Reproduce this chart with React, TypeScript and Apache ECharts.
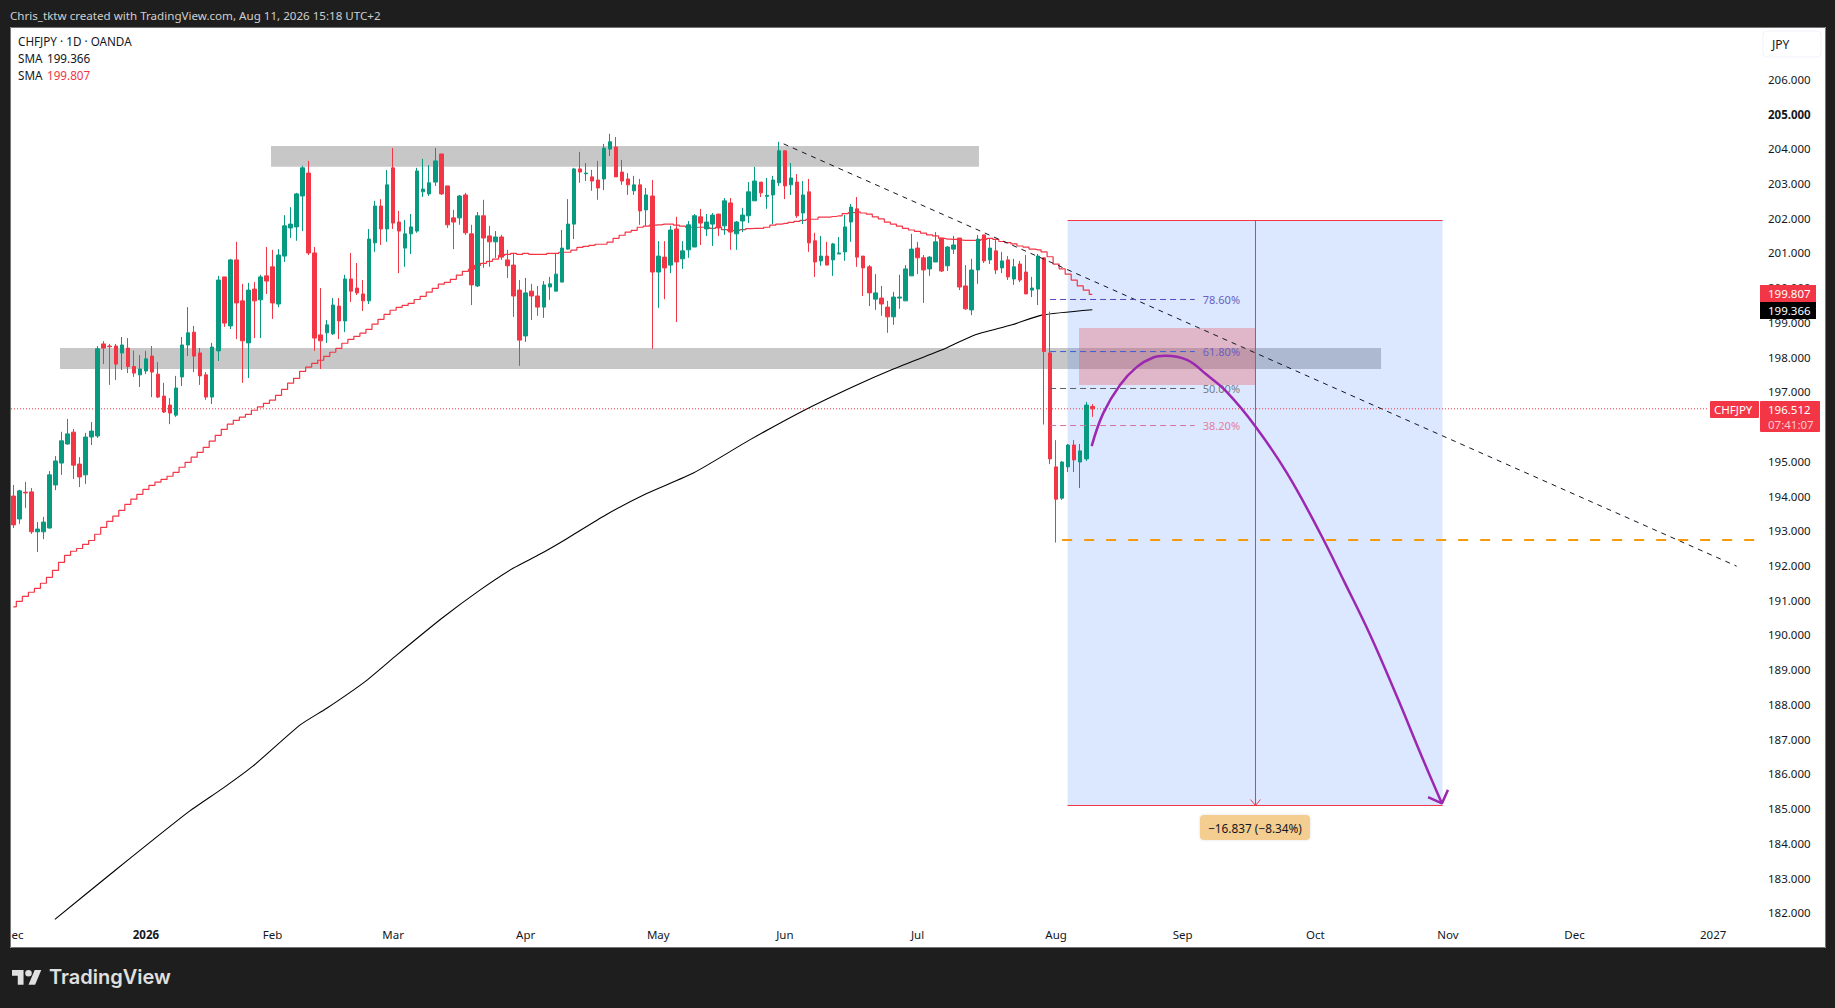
import { useRef, useEffect } from 'react';
import * as echarts from 'echarts';

const FONT = '"Noto Sans", sans-serif';
const UP = '#089981';
const DOWN = '#F23645';
const INK = '#131722';
const DARK = '#1e1e1e';

// daily candles, [open, close, low, high]
const candles = [
  [194.0, 193.17, 193.08, 194.32], [193.34, 194.15, 193.2, 194.18], [194.11, 194.09, 193.66, 194.41], [194.12, 192.97, 192.91, 194.23],
  [192.97, 193.05, 192.39, 193.25], [192.97, 193.25, 192.76, 193.4], [193.08, 194.61, 193.06, 194.72], [194.32, 195.01, 194.17, 195.15],
  [194.95, 195.59, 194.61, 195.85], [195.5, 195.79, 195.48, 196.22], [195.84, 194.89, 194.49, 195.93], [194.92, 194.55, 194.26, 195.12],
  [194.61, 195.7, 194.35, 195.82], [195.7, 195.87, 195.47, 196.13], [195.73, 198.24, 195.67, 198.32], [198.38, 198.26, 197.8, 198.46],
  [198.32, 198.3, 197.2, 198.38], [198.32, 197.8, 197.34, 198.38], [198.12, 198.35, 197.63, 198.58], [198.26, 197.73, 197.54, 198.55],
  [197.73, 197.54, 197.43, 198.19], [197.49, 197.66, 197.14, 198.06], [197.6, 197.95, 197.51, 198.18], [198.03, 197.57, 196.85, 198.32],
  [197.51, 196.85, 196.82, 197.86], [196.88, 196.42, 196.39, 197.26], [196.62, 196.39, 196.07, 196.82], [196.33, 197.11, 196.28, 197.46],
  [197.43, 198.35, 197.17, 198.58], [198.35, 198.7, 198.03, 199.44], [198.72, 198.03, 197.57, 198.9], [198.12, 197.46, 197.2, 198.26],
  [197.49, 196.85, 196.77, 197.57], [196.85, 198.29, 196.65, 198.41], [198.18, 200.22, 197.89, 200.34], [200.31, 198.98, 198.87, 200.31],
  [198.9, 200.8, 198.81, 200.83], [200.8, 199.56, 198.52, 201.32], [199.62, 198.47, 197.26, 200.11], [198.41, 199.93, 197.4, 200.14],
  [199.96, 199.62, 198.55, 200.16], [199.65, 200.31, 198.55, 200.37], [200.34, 200.19, 199.82, 201.17], [200.6, 199.56, 199.1, 201.09],
  [199.53, 200.94, 199.44, 201.11], [200.91, 201.78, 200.74, 202.09], [201.72, 201.83, 201.43, 202.32], [201.75, 202.7, 201.35, 202.73],
  [202.64, 203.45, 201.63, 203.51], [203.3, 201.0, 200.94, 203.65], [201.0, 198.55, 198.18, 201.17], [198.64, 198.47, 197.66, 199.99],
  [198.7, 198.93, 198.41, 199.07], [198.67, 199.5, 198.64, 199.7], [199.47, 199.04, 198.52, 199.7], [199.04, 200.25, 198.72, 200.37],
  [200.25, 199.9, 199.59, 201.0], [199.99, 199.85, 199.79, 200.71], [199.82, 199.62, 199.33, 200.22], [199.62, 201.4, 199.53, 201.69],
  [201.29, 202.35, 201.03, 202.5], [202.35, 201.69, 201.23, 202.55], [201.69, 202.96, 201.32, 203.39], [203.45, 201.86, 201.69, 204.02],
  [201.89, 201.63, 200.42, 202.21], [201.14, 201.55, 200.6, 201.95], [201.55, 201.75, 200.97, 202.12], [201.63, 203.36, 201.58, 203.45],
  [202.76, 202.84, 202.61, 203.71], [202.7, 203.02, 202.64, 203.53], [203.04, 203.65, 202.93, 204.02], [203.85, 202.7, 202.67, 203.85],
  [202.93, 201.81, 201.72, 202.93], [202.01, 201.89, 201.11, 202.24], [202.01, 202.64, 201.81, 202.67], [202.67, 201.58, 201.52, 202.73],
  [201.55, 200.08, 199.5, 201.81], [200.05, 202.07, 200.02, 202.18], [202.07, 201.43, 200.57, 202.53], [201.49, 201.32, 200.6, 201.78],
  [201.32, 201.46, 200.86, 201.63], [201.46, 200.88, 200.8, 201.52], [200.8, 200.63, 200.28, 201.09], [200.65, 199.76, 199.16, 201.0],
  [199.93, 198.49, 197.75, 200.22], [198.61, 199.85, 198.44, 200.28], [199.9, 199.76, 199.07, 200.11], [199.76, 199.44, 199.19, 200.05],
  [199.44, 200.08, 199.13, 200.19], [200.02, 200.11, 199.65, 200.31], [199.9, 200.39, 199.9, 200.97], [200.16, 201.14, 200.16, 201.66],
  [201.11, 201.83, 201.09, 202.55], [201.83, 203.42, 201.4, 203.45], [203.42, 203.33, 203.02, 203.91], [203.28, 203.3, 203.07, 203.59],
  [203.19, 203.07, 202.79, 203.39], [203.1, 202.87, 202.53, 203.65], [203.13, 204.02, 202.81, 204.14], [203.99, 204.2, 203.79, 204.43],
  [204.05, 203.19, 203.19, 204.34], [203.33, 203.07, 202.96, 203.68], [203.13, 202.96, 202.67, 203.3], [202.79, 202.96, 202.67, 203.22],
  [202.96, 202.21, 201.81, 203.13], [202.24, 202.67, 201.78, 202.87], [202.64, 200.45, 198.24, 203.1], [200.45, 200.91, 199.42, 201.34],
  [200.88, 200.57, 199.67, 201.34], [200.65, 201.66, 200.42, 201.78], [201.69, 200.74, 199.01, 202.04], [200.83, 201.06, 200.54, 201.34],
  [201.09, 201.81, 200.86, 201.92], [201.17, 202.07, 201.17, 202.12], [202.04, 201.86, 201.23, 202.27], [201.69, 201.89, 201.49, 202.12],
  [201.83, 202.09, 201.2, 202.15], [202.12, 201.72, 201.49, 202.12], [201.78, 202.5, 201.52, 202.58], [202.44, 201.6, 201.09, 202.58],
  [201.55, 201.89, 201.09, 201.92], [201.92, 202.09, 201.6, 202.3], [202.07, 202.76, 201.86, 203.04], [202.5, 203.07, 202.5, 203.48],
  [203.04, 202.73, 202.61, 203.04], [202.63, 202.66, 202.27, 203.16], [202.67, 203.1, 201.83, 203.22], [203.02, 203.94, 202.93, 204.2],
  [203.94, 202.93, 202.55, 203.94], [202.96, 203.16, 202.67, 203.59], [203.04, 202.07, 202.01, 203.27], [202.15, 202.67, 201.83, 203.07],
  [202.76, 201.29, 201.03, 203.13], [201.35, 200.74, 200.31, 201.58], [200.77, 200.91, 200.63, 201.49], [200.91, 200.65, 200.65, 201.32],
  [200.8, 201.26, 200.34, 201.29], [200.97, 201.0, 200.97, 201.46], [201.03, 201.75, 200.77, 202.09], [201.89, 202.32, 201.32, 202.41],
  [202.27, 200.88, 200.6, 202.61], [200.91, 200.57, 199.76, 200.91], [200.6, 199.85, 199.47, 200.65], [199.67, 199.85, 199.36, 200.39],
  [199.7, 199.53, 199.19, 200.05], [199.44, 199.16, 198.7, 199.62], [199.16, 199.73, 198.93, 199.88], [199.7, 199.73, 199.39, 200.37],
  [199.62, 200.54, 199.62, 200.65], [200.34, 201.11, 200.34, 201.55], [201.14, 200.86, 200.39, 201.32], [200.86, 200.51, 199.56, 200.94],
  [200.54, 200.88, 200.34, 200.91], [200.74, 201.32, 200.74, 201.6], [201.43, 200.48, 200.45, 201.43], [200.63, 201.17, 200.48, 201.2],
  [201.11, 201.23, 200.97, 201.49], [201.43, 200.02, 199.93, 201.43], [200.05, 199.39, 199.36, 200.65], [199.36, 200.51, 199.21, 200.83],
  [200.51, 201.4, 200.11, 201.52], [201.52, 200.77, 200.71, 201.52], [200.8, 201.14, 200.68, 201.43], [201.06, 200.51, 200.39, 201.37],
  [200.57, 200.77, 200.42, 201.03], [200.8, 200.31, 200.22, 200.91], [200.25, 200.6, 200.08, 200.83], [200.68, 200.22, 200.16, 200.77],
  [200.45, 199.82, 199.82, 200.94], [199.93, 199.99, 199.73, 200.31], [199.96, 200.91, 199.5, 200.97], [200.86, 198.16, 196.06, 200.86],
  [198.12, 195.07, 194.92, 199.31], [194.84, 193.91, 192.66, 195.61], [193.94, 194.98, 193.89, 195.01], [194.84, 195.47, 194.69, 195.5],
  [195.47, 195.04, 194.69, 195.61], [194.98, 195.3, 194.23, 195.5], [195.07, 196.62, 195.01, 196.71], [196.58, 196.512, 196.28, 196.65],
];

// red SMA, one value per candle
const smaRed = [
  190.81, 190.97, 191.11, 191.23, 191.34, 191.49, 191.66, 191.86, 192.09, 192.29, 192.41, 192.49, 192.61, 192.72, 192.9, 193.1,
  193.27, 193.42, 193.59, 193.76, 193.91, 194.05, 194.19, 194.31, 194.4, 194.48, 194.57, 194.68, 194.83, 194.97, 195.12, 195.26,
  195.4, 195.58, 195.75, 195.92, 196.07, 196.18, 196.27, 196.35, 196.47, 196.57, 196.67, 196.76, 196.9, 197.07, 197.25, 197.39,
  197.59, 197.71, 197.82, 197.91, 198.02, 198.14, 198.25, 198.4, 198.51, 198.6, 198.69, 198.8, 198.95, 199.09, 199.23, 199.35,
  199.43, 199.49, 199.55, 199.66, 199.75, 199.87, 199.98, 200.1, 200.15, 200.24, 200.36, 200.47, 200.53, 200.64, 200.7, 200.76,
  200.82, 200.93, 200.96, 200.99, 200.96, 200.99, 200.96, 200.96, 200.96, 200.99, 200.99, 201.02, 201.02, 201.08, 201.16, 201.19,
  201.22, 201.25, 201.25, 201.31, 201.42, 201.51, 201.6, 201.65, 201.74, 201.77, 201.8, 201.81, 201.83, 201.83, 201.8, 201.77,
  201.74, 201.74, 201.74, 201.74, 201.71, 201.74, 201.67, 201.64, 201.64, 201.67, 201.7, 201.71, 201.71, 201.74, 201.8, 201.83,
  201.85, 201.88, 201.91, 201.94, 201.97, 201.97, 202.03, 202.03, 202.05, 202.07, 202.13, 202.16, 202.18, 202.15, 202.12, 202.04,
  201.98, 201.89, 201.83, 201.77, 201.71, 201.66, 201.62, 201.57, 201.52, 201.49, 201.42, 201.4, 201.39, 201.37, 201.36, 201.36,
  201.36, 201.39, 201.42, 201.39, 201.33, 201.3, 201.26, 201.2, 201.17, 201.11, 201.09, 201.03, 200.89, 200.68, 200.54, 200.39,
  200.22, 200.05, 199.93, 199.807,
];

// black SMA, read at [bar, price]
const smaBlack = [
  [6.9, 181.81], [16.3, 183.14], [28.8, 184.87], [34.8, 185.59], [39.8, 186.23], [47.6, 187.41], [52, 187.89], [58.3, 188.65],
  [63.6, 189.42], [71.1, 190.48], [77.4, 191.29], [82.9, 191.92], [87.4, 192.33], [91.4, 192.73], [98.2, 193.45], [104.9, 194.06],
  [112.9, 194.67], [122.1, 195.61], [131.3, 196.48], [139.3, 197.15], [146, 197.66], [154.6, 198.25], [159.5, 198.64], [165.7, 198.93],
  [170.6, 199.21], [179, 199.366],
];

const priceTicks = [182, 183, 184, 185, 186, 187, 188, 189, 190, 191, 192, 193, 194, 195, 196, 197, 198, 199, 200, 201, 202, 203, 204, 205, 206];
const timeTickBars = [0, 22, 43, 63, 85, 107, 128, 150, 173, 194, 216, 238, 259, 282];
const timeTickLabels = ['Dec', '2026', 'Feb', 'Mar', 'Apr', 'May', 'Jun', 'Jul', 'Aug', 'Sep', 'Oct', 'Nov', 'Dec', '2027'];

// drawings on the chart: [bar from, bar to, price low, price high]
const upperZone = [42.75, 160.2, 203.48, 204.08];
const lowerZone = [7.75, 226.9, 197.66, 198.26];
const projection = [174.9, 237.1, 185.09, 201.934];
const pinkZone = [176.8, 206, 197.2, 198.84];

const fibLevels = [
  { label: '78.60%', price: 199.66, line: '#5546bd', text: '#6a5fc4' },
  { label: '61.80%', price: 198.16, line: '#3a5bd9', text: '#6a5fc4' },
  { label: '50.00%', price: 197.097, line: '#5d6070', text: '#787b86' },
  { label: '38.20%', price: 196.03, line: '#d9709a', text: '#e2809f' },
];
const fibBars = [172, 196];

const trendLine = [[127.8, 204.14], [285.9, 191.98]];
const lastPrice = 196.512;
const swingLow = 192.735;
const pathCurve = [
  [178.9, 195.44], [180.8, 196.38], [183.6, 197.2], [186.4, 197.72], [189.1, 197.99], [191.1, 198.04], [194.7, 197.92], [198, 197.49],
  [201.3, 197.0], [206, 196.02], [211.3, 194.66], [216.8, 192.93], [220.9, 191.5], [225.1, 190.0], [229.5, 188.24], [233.9, 186.4], [237, 185.15],
];
const pathArrow = [[234.7, 185.33], [237, 185.15], [238, 185.54]];
const rulerBar = 206.07;
const rulerArrow = [[205.25, 185.26], [206.07, 185.09], [206.89, 185.26]];

echarts.graphic.registerShape(
  'tvLogo',
  echarts.graphic.extendPath('M14 22H7V11H0V4h14v18zM28 22h-8l7.5-18h8L28 22zM24 8a4 4 0 1 1-8 0a4 4 0 1 1 8 0z', {})
);

const box = (name: string, b: number[], fill: string, z: number) => ({
  type: 'custom',
  name,
  silent: true,
  z,
  data: [b],
  encode: { x: [0, 1], y: [2, 3] },
  renderItem: (_: any, api: any) => {
    const a = api.coord([api.value(0), api.value(3)]);
    const c = api.coord([api.value(1), api.value(2)]);
    return { type: 'rect', shape: { x: a[0], y: a[1], width: c[0] - a[0], height: c[1] - a[1] }, style: { fill } };
  },
});

const line = (name: string, data: any[], color: string, width: number, dash: any = 'solid', z = 7, extra: any = {}) => ({
  type: 'line',
  name,
  data,
  symbol: 'none',
  silent: true,
  z,
  lineStyle: { color, width, type: dash },
  ...extra,
});

const text = (x: number, y: number, str: string, fill: string, size = 12, extra: any = {}) => ({
  type: 'text',
  x,
  y,
  z: 100,
  silent: true,
  style: { text: str, fill, font: `${size}px ${FONT}`, textVerticalAlign: 'middle', ...extra },
});

const tag = (x: number, y: number, w: number, h: number, fill: string) => ({
  type: 'rect',
  z: 98,
  silent: true,
  shape: { x, y, width: w, height: h },
  style: { fill },
});

export default function App() {
  const containerRef = useRef<HTMLDivElement>(null);

  useEffect(() => {
    if (!containerRef.current) return;
    const chart = echarts.init(containerRef.current, null, { renderer: 'svg' });

    const xMin = -0.382;
    const xMax = 289.27;

    chart.setOption({
      animation: false,
      backgroundColor: DARK,
      grid: { left: 11, top: 28, width: 1746, height: 892, containLabel: false },
      xAxis: {
        type: 'value',
        min: xMin,
        max: xMax,
        splitLine: { show: false },
        axisLine: { show: false },
        axisTick: { show: false },
        axisLabel: {
          customValues: timeTickBars,
          hideOverlap: false,
          margin: 8,
          color: INK,
          fontSize: 11.5,
          fontFamily: FONT,
          formatter: (v: number) => {
            const s = timeTickLabels[timeTickBars.indexOf(v)] ?? '';
            return s === '2026' ? `{b|${s}}` : s;
          },
          rich: { b: { fontWeight: 700, color: INK, fontSize: 11.5, fontFamily: FONT } },
        },
      },
      yAxis: {
        type: 'value',
        position: 'right',
        min: 181.793,
        max: 207.477,
        scale: true,
        splitLine: { show: false },
        axisLine: { show: false },
        axisTick: { show: false },
        axisLabel: {
          customValues: priceTicks,
          margin: 11,
          color: INK,
          fontSize: 11.5,
          fontFamily: FONT,
          formatter: (v: number) => (v === 205 ? `{b|${v.toFixed(3)}}` : v.toFixed(3)),
          rich: { b: { fontWeight: 700, color: INK, fontSize: 11.5, fontFamily: FONT } },
        },
      },
      series: [
        box('upper zone', upperZone, '#c7c7c7', 1),
        box('lower zone', lowerZone, '#c7c7c7', 1),
        box('projection', projection, 'rgba(33,110,255,0.16)', 2),
        box('pink zone', pinkZone, 'rgba(233,91,97,0.35)', 3),
        line('SMA black', smaBlack, '#000000', 1.1, 'solid', 4, { smooth: 0.2 }),
        line('SMA red', smaRed.map((v, i) => [i, v]), DOWN, 1.2, 'solid', 4, { step: 'middle' }),
        line('last price', [[xMin, lastPrice], [281, lastPrice]], DOWN, 1, [1, 2], 4),
        {
          type: 'candlestick',
          name: 'CHFJPY',
          z: 5,
          silent: true,
          barWidth: 4,
          data: candles.map((c, i) => [i, c[0], c[1], c[2], c[3]]),
          itemStyle: { color: UP, color0: DOWN, borderColor: UP, borderColor0: DOWN, borderWidth: 1 },
        },
        line('trend', trendLine, '#131722', 1, [5, 5]),
        line('swing low', [[174, swingLow], [288.9, swingLow]], '#F59A0B', 2, [10, 12]),
        ...fibLevels.map((f) =>
          line(`fib ${f.label}`, [[fibBars[0], f.price], [fibBars[1], f.price]], f.line, 1, [6, 4], 7, {
            endLabel: { show: true, formatter: f.label, color: f.text, fontSize: 11, fontFamily: FONT, distance: 8 },
          })
        ),
        line('ruler top', [[projection[0], projection[3]], [projection[1], projection[3]]], DOWN, 1),
        line('ruler bottom', [[projection[0], projection[2]], [projection[1], projection[2]]], DOWN, 1),
        line('ruler', [[rulerBar, projection[3]], [rulerBar, projection[2]]], DOWN, 1),
        line('ruler arrow', rulerArrow, DOWN, 1),
        line('path', pathCurve, '#9C27B0', 2.5, 'solid', 8, { smooth: 0.4 }),
        line('path arrow', pathArrow, '#9C27B0', 2.5, 'solid', 8),
      ],
      graphic: [
        { type: 'rect', z: -10, silent: true, shape: { x: 10, y: 27, width: 1816, height: 921 }, style: { fill: '#ffffff' } },
        { type: 'rect', z: 90, silent: true, shape: { x: 0, y: 0, width: 10, height: 1008 }, style: { fill: DARK } },
        { type: 'rect', z: 91, silent: true, shape: { x: 10.5, y: 27.5, width: 1815, height: 920 }, style: { fill: 'none', stroke: '#757575', lineWidth: 1 } },

        text(10, 15, 'Chris_tktw created with TradingView.com, Aug 11, 2026 15:18 UTC+2', '#cfcfcf', 11.6),
        text(18, 40.5, 'CHFJPY · 1D · OANDA', INK, 11.7),
        text(18, 58, 'SMA', INK, 11.7),
        text(47, 58, '199.366', INK, 11.7),
        text(18, 74.5, 'SMA', INK, 11.7),
        text(47, 74.5, '199.807', DOWN, 11.7),

        { type: 'rect', z: 98, silent: true, shape: { x: 1763, y: 31, width: 58, height: 26, r: 4 }, style: { fill: '#ffffff', stroke: '#f0f3fa', lineWidth: 1 } },
        text(1772, 44, 'JPY', INK, 12),

        tag(1760, 285, 56, 17, DOWN),
        text(1768, 293.5, '199.807', '#ffffff', 11.5),
        tag(1760, 302, 56, 17, '#000000'),
        text(1768, 310.5, '199.366', '#ffffff', 11.5),
        { type: 'rect', z: 98, silent: true, shape: { x: 1710, y: 401, width: 49, height: 17, r: 1 }, style: { fill: DOWN } },
        text(1714, 409.5, 'CHFJPY', '#ffffff', 11.5),
        { type: 'rect', z: 98, silent: true, shape: { x: 1760, y: 401, width: 60, height: 31, r: 1 }, style: { fill: DOWN } },
        text(1768, 409.5, '196.512', '#ffffff', 11.5),
        text(1768, 424, '07:41:07', '#fbc9cd', 11.5),

        { type: 'rect', z: 98, silent: true, shape: { x: 1200, y: 815, width: 110, height: 25, r: 4 }, style: { fill: '#F4CD90', shadowBlur: 3, shadowColor: 'rgba(0,0,0,0.12)' } },
        text(1255, 827.5, '−16.837 (−8.34%)', INK, 11.8, { textAlign: 'center' }),

        { type: 'tvLogo', z: 100, silent: true, x: 12, y: 966.7, scaleX: 0.825, scaleY: 0.825, style: { fill: '#e0e0e0' } },
        { type: 'text', z: 100, silent: true, x: 49, y: 977, style: { text: 'TradingView', fill: '#e0e0e0', font: `600 20px Inter, ${FONT}`, textVerticalAlign: 'middle' } },
      ],
    });

    return () => {
      chart.dispose();
    };
  }, []);

  return <div ref={containerRef} style={{ position: 'fixed', left: 0, top: 0, width: 1835, height: 1008 }} />;
}
